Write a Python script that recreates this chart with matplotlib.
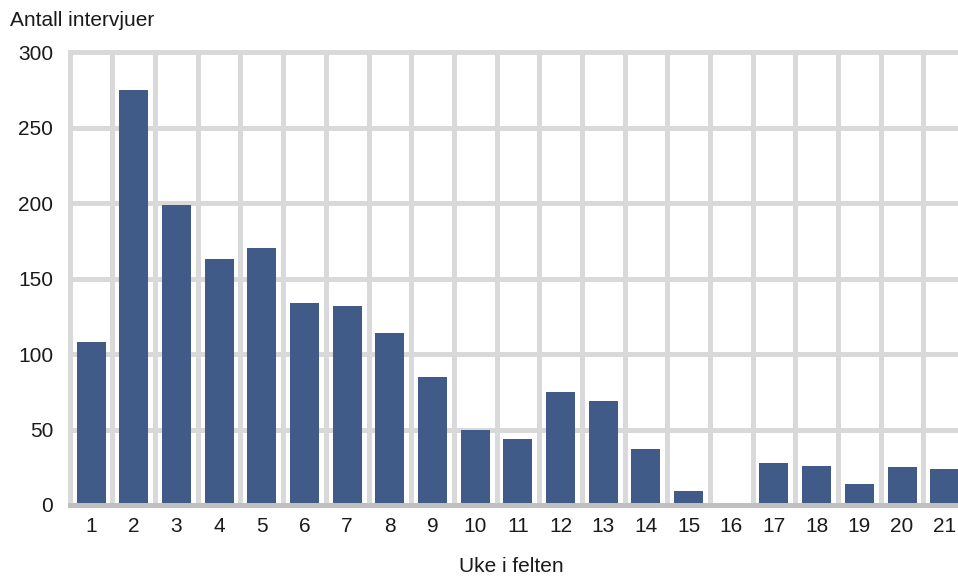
import matplotlib.pyplot as plt
import numpy as np

plt.rcParams['font.family'] = ['Liberation Sans', 'DejaVu Sans']

# data
weeks = [str(w) for w in range(1, 22)]
interviews = [108, 275, 199, 163, 170, 134, 132, 114, 85, 50, 44,
              75, 69, 37, 9, 0, 28, 26, 14, 25, 24]

BAR_COLOR = "#415b88"
GRID_COLOR = "#d9d9d9"
AXIS_COLOR = "#bfbfbf"
TEXT_COLOR = "#1a1a1a"

fig = plt.figure(figsize=(9.58, 5.78), dpi=100)
ax = fig.add_axes([0.0728, 0.1263, 0.9356, 0.7837])

x = np.arange(len(weeks))
ax.bar(x, interviews, width=0.68, color=BAR_COLOR, zorder=3)

ax.set_xlim(-0.5, len(weeks) - 0.5)
ax.set_ylim(0, 300)
ax.set_yticks(range(0, 301, 50))
ax.set_xticks(x)
ax.set_xticklabels(weeks)

# grid: horizontal at y ticks, vertical between categories
for yv in range(50, 301, 50):
    ax.axhline(yv, color=GRID_COLOR, linewidth=3.6, zorder=1, clip_on=False)
for xv in np.arange(-0.5, len(weeks), 1.0):
    ax.axvline(xv, color=GRID_COLOR, linewidth=3.6, zorder=1, clip_on=False)
ax.axhline(0, color=AXIS_COLOR, linewidth=3.6, zorder=4, clip_on=False)

for s in ax.spines.values():
    s.set_visible(False)
ax.tick_params(length=0, labelsize=15, colors=TEXT_COLOR)
ax.tick_params(axis='y', pad=12)
ax.tick_params(axis='x', pad=9)

fig.text(10 / 958, 1 - 20 / 578, "Antall intervjuer", fontsize=15,
         color=TEXT_COLOR, ha='left', va='center')
fig.text(511 / 958, 1 - 567 / 578, "Uke i felten", fontsize=15,
         color=TEXT_COLOR, ha='center', va='center')

fig.savefig("out.png", dpi=100)
